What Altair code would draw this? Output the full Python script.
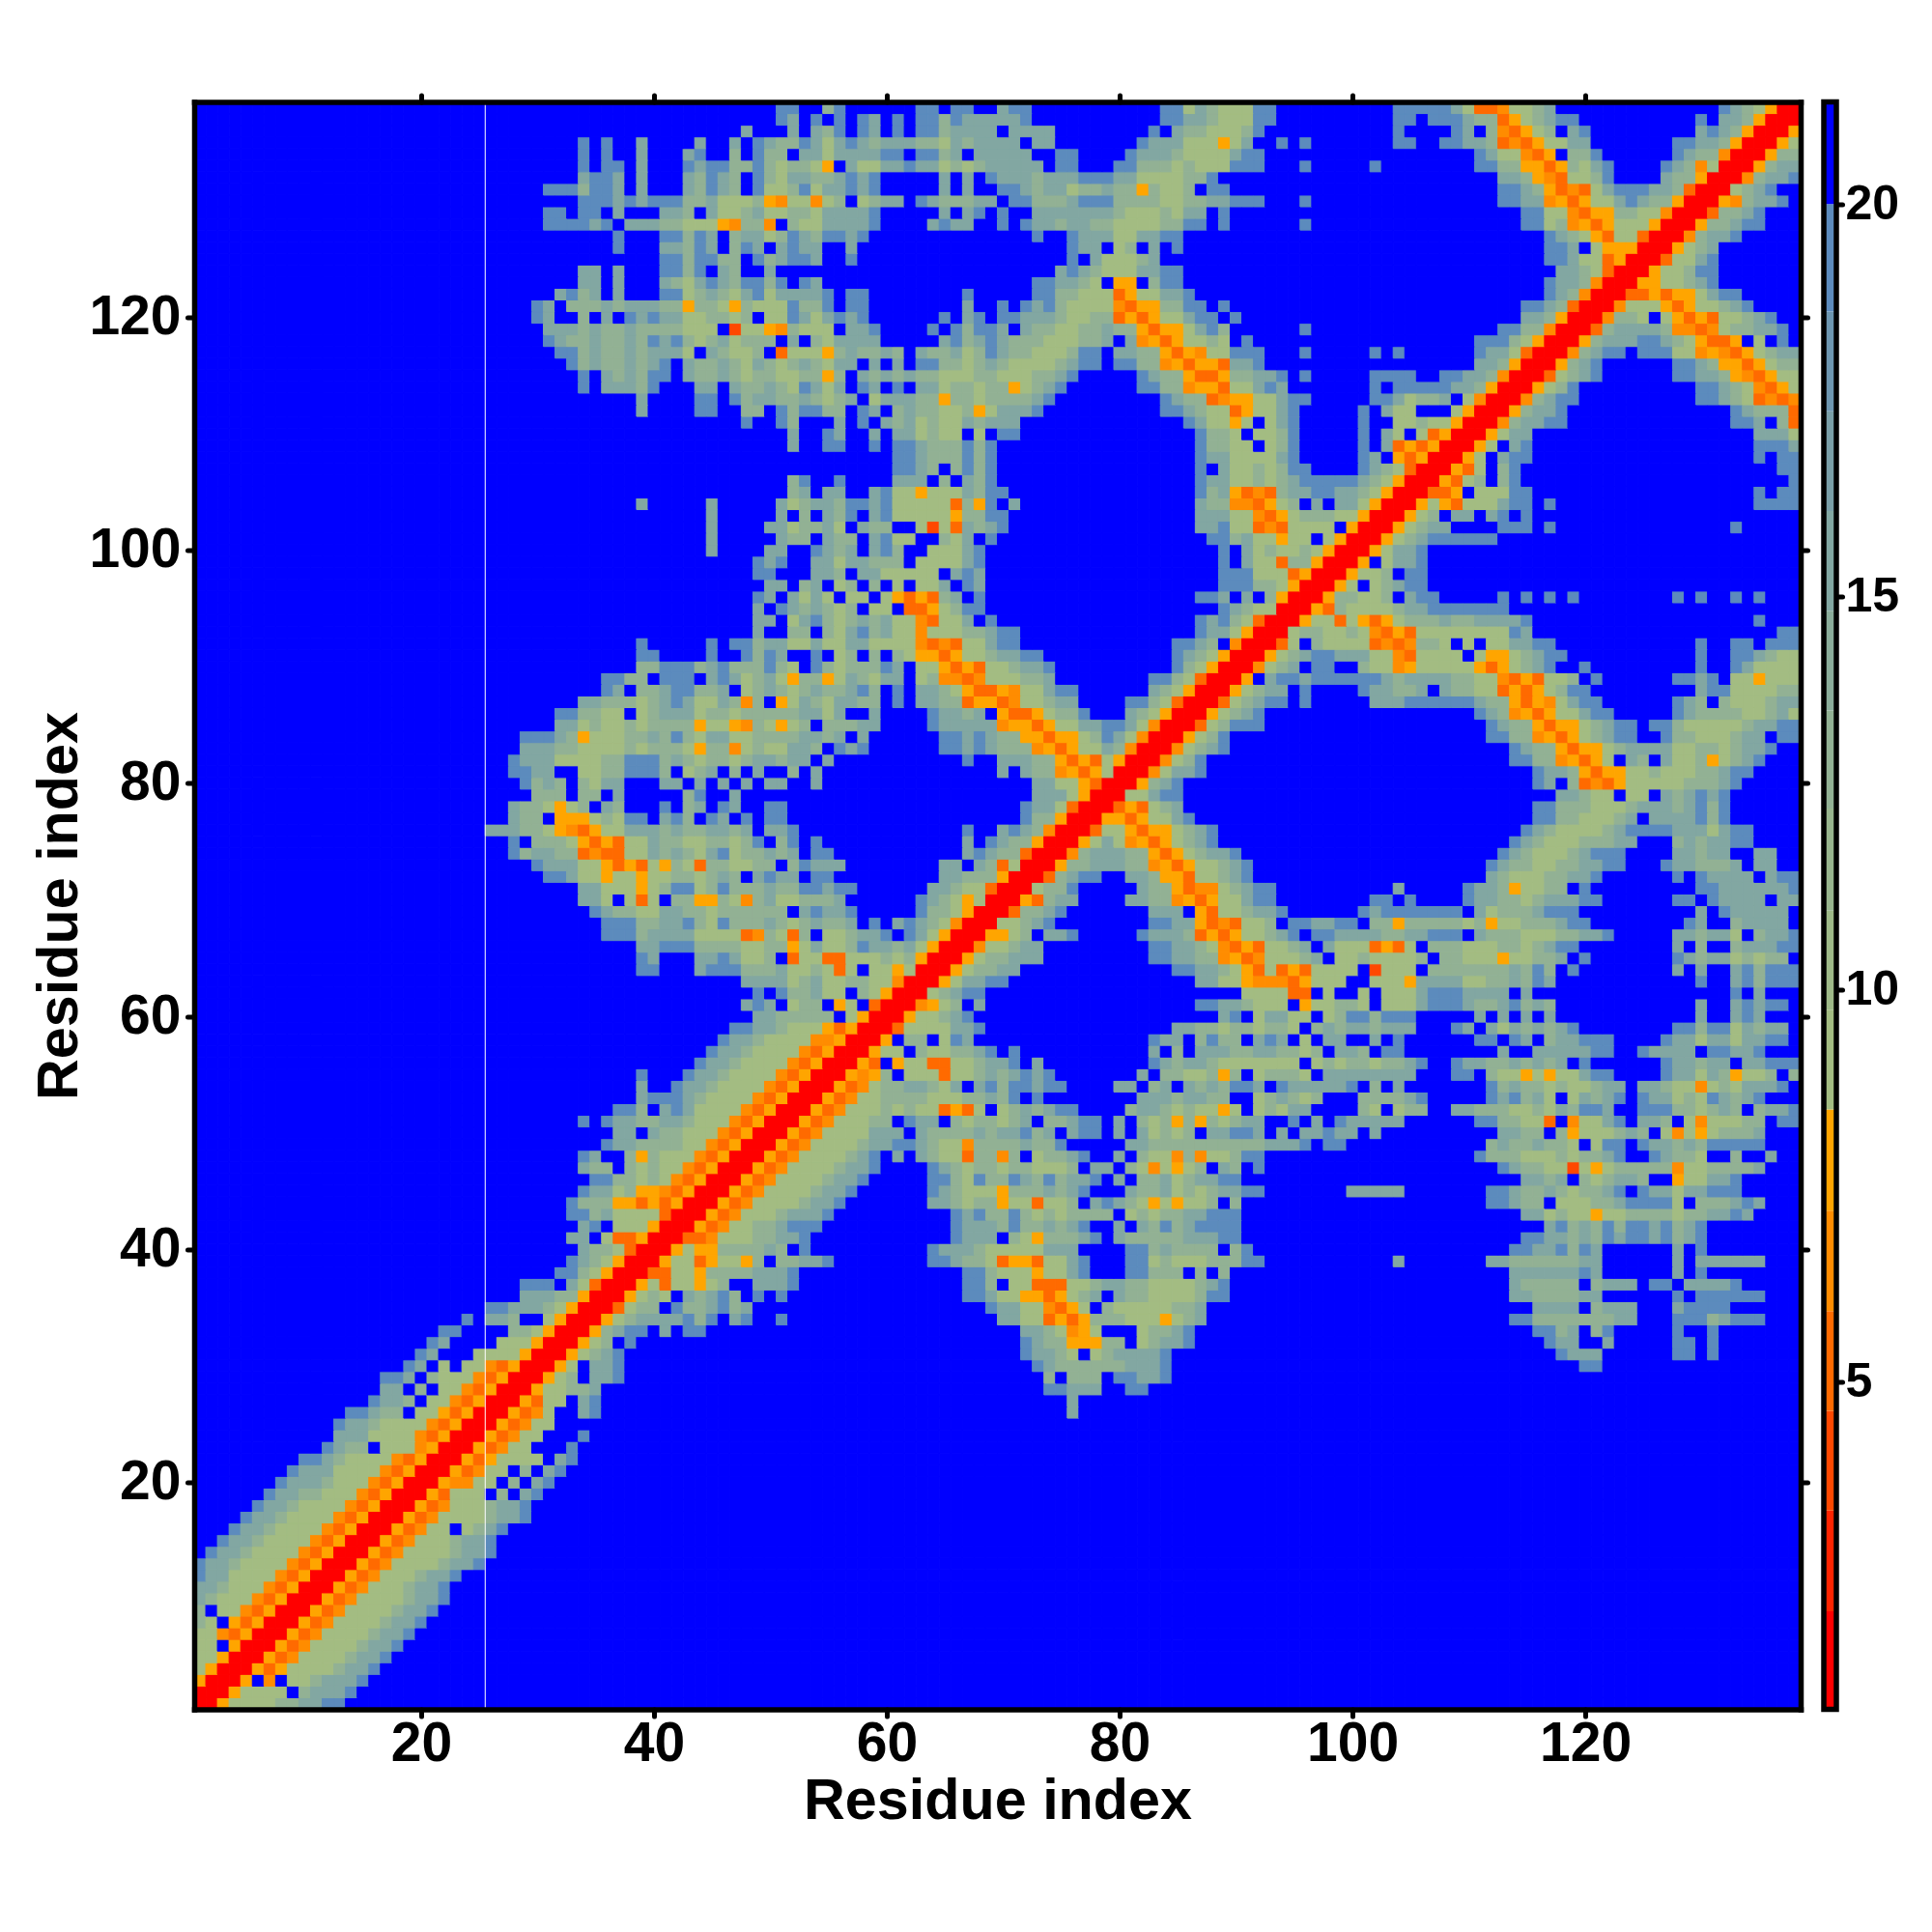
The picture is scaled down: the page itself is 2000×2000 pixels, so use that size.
import altair as alt
import pandas as pd

alt.data_transformers.disable_max_rows()

FONT = "Liberation Sans"
N = 138
AXIS_TICKS = [20, 40, 60, 80, 100, 120]
BAR_TICKS = [5, 10, 15, 20]
SEAM_X = [25.5]

# colour level edges and colours (distance, Angstrom-like units)
LEVEL_EDGES = [0.83, 2.08, 3.36, 4.63, 5.90, 7.18, 8.47, 9.74, 11.0, 12.3,
               13.55, 14.82, 16.09, 17.36, 18.63, 20.0, 21.3]
LEVEL_COLORS = ["#FF0000", "#FF2400", "#FF4800", "#FF6A00", "#FF8C00", "#FFA500",
                "#A3BC82", "#9EB988", "#98B58E", "#92B194", "#8AAC9A", "#82A7A2",
                "#7A9FA8", "#6D96B0", "#5C8BBD", "#0000FF"]
CODE_VALUES = {"R": 1.5, "T": 4.0, "O": 5.3, "M": 6.5, "A": 7.8,
               "g": 9.0, "h": 12.8, "i": 15.4, "j": 19.0, ".": 21.0}

# Upper triangle of the symmetric map, row by row: "first_column:cells"
ROWS = [
"1:RRAgggghhiijj",
"2:RRAgggg.hiiij",
"3:RRA.M.gghiiij",
"4:RRAOAgggghiij",
"5:RRAOMgggghiij",
"6:RRAOMgggghiij",
"7:RRAOMgggghiij",
"8:RRAOMgggghiij",
"9:RRAOMgggghiij",
"10:RRAOMgggghiij",
"11:RRAOMggghiij",
"12:RRAOMggghiij",
"13:RRAOMgggghiij",
"14:RRAOMgggghiij",
"15:RRAOMggghiij",
"16:RRAOMgg.ghij",
"17:RRAOMgggghiij",
"18:RRAOMggghiij",
"19:RRAOggg.h.ij",
"20:RRAMMgg.h.ij",
"21:RRAOMgg.h.ij",
"22:RRAOAgggg.ij",
"23:RRAOMgg...j",
"24:RRAOMgg...j",
"25:RRAOMgg",
"26:RRAOMg..ij 76:i",
"27:RRAOgg.ij 76:i",
"28:RRAgghhi 74:jjiii 81:jj",
"29:RRAgh.iij 74:h.hhh.jjiij",
"30:RRAg.iij 73:jihhhhhhiiij 120:jj",
"31:RRAghij 72:jiihg.ghiiiij 118:jiii 128:jj 131:j",
"32:RRAgh.j 72:jihhAAAhh.ghiij 117:jii 122:i 128:jj 131:j",
"33:RRAhijj.i.jj 72:iihgMAg...ghhij 116:jjhi.hj 128:j..j",
"34:RRAghiiiijhj.ij..j 70:iiggOAOAhhhgggAghi 114:jjhhhhhhhii 128:jjjhijjj",
"35:RROghh.jhhijhi 69:jiiggMOAg.hggggghhi 116:iiii.hiii 128:ijjjj",
"36:RRAghg.ihijh.j.j 67:jjiggAAOAghi.ihhgggghjj 114:iihhhhii 128:j.jjjjjj",
"37:RRAgOggAgh..iiij 67:jjh.ggOOOgghiihhgggghij 114:ihhhhh.hiii 126:jj.iiiij",
"38:RROOggAhhhhiiij 67:jjhgggAggij...jjhhh.h.h 114:iiiiiiji 128:i.j",
"39:RRAggOAggAh.hhiij 64:jjihhgOAAOggij...jjghggghhhjj 104:i 112:iihhhhhhii 128:i.iiiiii",
"40:RRAgAAhhhhih.j 64:jiiihgggggiii....jjhihhhh.hj 114:jjiijhji 128:i.j",
"41:RROOMggghhiij 66:jiii.hgAhhhij.ihhhhhiiijj 115:jjiihihjijjijhij",
"42:RRAOMgghhijjj 66:jiiihjhhihij..i.ihjhijjjj 117:ijhihjhjjijhij",
"43:RRAOMggghiiij 66:jijhhjhghghhhh.ghghhiijjj 115:iighggAgghhhhghhiiji",
"44:RRAOMgggghiij 64:iihghhAggOggh.ijihgAgAggh.h 112:jjihh.ggghhijjjjg.hhhiji",
"45:RRAOMgggghiij 64:jihgggAhhhihij...ihhighghiijj 100:iiiii 112:jjihhihghhij.jiigiijjj",
"46:RRAOMgggghiij 64:jjhgjhhjihjhiij.i.hhighiijj 115:iihi.hghiih..Aggiij",
"47:RRAOMgggghiij 64:jihghhghhgggh.ii.hgMgAgh.ih.j 113:jihhggTgAghhhhhMgghhhhi",
"48:RRAOMgggghij.i.ihggOhhMh.ghhij..i.hggMhMgghjj 111:jhhhggghghhij..jihhg..h..i",
"49:RRAOMgggghiijjihggMhhhhihhj.....iihhhhhhhhhhiiij.jj 112:hihhihhg.gjj.jiihihjjjjj",
"50:RRAOMggggiii.ihhhhihiijhi.ijj.i.ighgh.iijji.i.iijii.i 113:iihh.hAggghih.gMgAghhhi",
"51:RRAOMggghh.jii.hghhghi.hhijj.i.hghAhAhghii..j.i.jiiiii 111:jjhhggO.Mggij.iih.gMggghh.jj",
"52:RRAOMggghghggOAOg.ghihijj....hiihghggAg.ghgii....hg.ghh 109:iihhhgghgihjji..jjjhhghih.hiij",
"53:RRAOMgghhhhggghhihj.j 82:iiihiihh..ghihgh...hhhhij 112:jijhig.gihij.jiighgjihij",
"54:RRAOMghhiihgi.ijhjjijj 80:ii.hi.ihihjji.jiiiiij.h.i 112:jhihhghgghii.iihggMghgiiij",
"55:RRAMAh.gggOgghihijij 82:i.hhgghAh.ghhhg.iiiiiiii 109:jj 112:hggAgAggijj 127:jiigihAggh.h",
"56:RRAO.AggOOgghiij 73:i 83:jihiihggggggg.ghghhghhij 109:jiihhihihi.j 127:jiihii.iijjj",
"57:RRAgg.hgghhij.j 83:i.h.iiihhiihhgh.iih.jj 113:i 116:iiiiijj 125:jiiii.jjiij",
"58:RRA.hh.gji 83:jii.hjhh.iji.g.ii..i.j 111:jj.ji.hiijjj 127:jiigiigiijj",
"59:RROggggiij 85:iihhghhghhg.hihiihiii 109:ji.igihihij 128:jjhjjgihii",
"60:RRAgghij 89:ij.giigg.ghjjhjjj 111:i.i.i.i 130:i 133:iji",
"61:RRMAgh.i 87:jjiihggg.Agghhg.gggijjjihhijhih 130:i 133:ijijj",
"62:RRghijj 91:ggggOO.g..g.gggijjjiiii.i 133:j.i",
"63:RRAgiijj 87:iiggAMMMOAggg..gggAiiiigghhihji 130:j 133:ijhjjj",
"64:RRAghhii 85:jjiihgAOgOAOgggg.Tggg.hhhhhhhihjh.j 128:i 130:i 133:ijhjjj",
"65:RRAghhiii 83:jjiihhMAOMggghi.gghggggh.hhgggAgghhi.j 128:jihiighghh",
"66:RRMgghii 83:jjiihgMOAOgghi.igggOAOg.hhhggghhghijj 128:i.h..hiiijj",
"67:RRAAgh.iij 82:jiiihOAOAgghij.jjiiiihhiijjj.ihhhggghhiij 128:iihiig.hiij",
"68:RRgghij 83:jjiiAOMOggh.jjiijj.hhAhhhhhghAgghhhijj 129:ji..hiiii",
"69:RROhhij 83:iii.AOgghiij 101:jijjjjjjj.ighhhijjj 130:i.jiiiii",
"70:RRAOhii 81:iihhMAOAggijj 102:jj.j 110:jiihhghiiijj 128:jj.jiiii.ii",
"71:RRghhj 82:ihhAOMMghijj 104:i 110:jiihAgghh.j 130:jjiiiiiij",
"72:RROhijj 81:iihAAOgghij 112:ihggghhiij 128:j.jiiii.ijj",
"73:RRAhhiiihhMAOAgghij 112:jihhgghhiijj 127:jiihhhi.ii",
"74:RRMhiiihhAOAghiij 113:jihggghijjj 128:iihii..ii",
"75:RRAgigMAOAghij 114:jihggghhhii 128:hihiijj",
"76:RROggAOAAghij 115:jihgggghijjjjiiigijj",
"77:RRAAOAggij 116:jjhhggghi.iiiijhj",
"78:RROAOghi 116:jjhhhggghiiihijhj",
"79:RRggijj 118:iihgg.gg.ihijij",
"80:RRAhij 116:ji.hOMOAggggghhhij",
"81:RRMgiij 116:jiihAOAAgghggghhijj",
"82:RRMghj 114:jjhhMAOAg.ih.igghAghij",
"83:RRMghij 114:jihhAOAAghiiiigghhghiij",
"84:RRAghj 112:jjhhMAOAghijj 127:jhhggghii.jj",
"85:RROghjjj 112:jihhAOAAghijj 126:jjhggggghiijj",
"86:RRAghij 111:jihMAOAggijj 128:jihhhhgghig",
"87:RROghijj 96:j 102:iiijjjjjjihhAOAMgijj 128:jih.hggghii",
"88:RRAghii.j 101:jiihhi.ihhggOAOAghjj 130:ijjgggghh",
"89:RRA.ijjijjjjjjihiiiihhggMOAOggh.j 128:jjij.ggAggg",
"90:RRMghi.jj..hggMAgggggAOAghij 120:j 130:j 133:jigggg",
"91:RRAghijjiiiggMOgggg.gAAghijj 130:j 133:jjihgg",
"92:RROg.hggggOMOMhhg.g.ggiijj 130:j 133:jj.jjj",
"93:RRghhgghgMOAOggggggggji 137:jj",
"94:RRAggOgAOAghhhihhiiiij 135:j",
"95:RRAOhgggghiijjjjjjj",
"96:RRAhhggh.ijj 113:j.j.j.j 128:j.j..j.j",
"97:RRAg.ghijj",
"98:RRAggh.jj",
"99:RRA.giij",
"100:RRAgiij",
"101:RRAghijjjjjj",
"102:RRAghii 113:jjj.j 133:j",
"103:RRAgh.ii.ij.j",
"104:RRAgAOgggijj.j 135:jjjj",
"105:RROOA.gggjj 135:j.jj",
"106:RRAOgh.hj 138:j",
"107:RRAOg.hj 137:jj",
"108:RRAg.ijj 135:j.jj",
"109:RRAg.ij 135:jjji",
"110:RRAgii 135:iiig",
"111:RRMhiijj 133:jji.hO",
"112:RRAhiij 133:jihhhO",
"113:RRMhijj 130:jjihgOMOM",
"114:RRAghj 130:jjihgMOAg",
"115:RROghij 128:jjiihAMOAgg",
"116:RRAhij 128:jjihAAOAghh",
"117:RRMhijj.jjjggMAMOAghii",
"118:RRAhiiijjihgAOOA.g.j.",
"119:RROhiiiihMMOMghhiij",
"120:RRMhhg.gAOAOgghij",
"121:RRMgggAOAgghij",
"122:RROOAOAAgijj",
"123:RRAAgghij",
"124:RRAgghjj",
"125:RROggij",
"126:RRAghi",
"127:RRMhiij",
"128:RRAhhijj",
"129:RROhhij",
"130:RRAMhiij",
"131:RRghij",
"132:RRMhiij",
"133:RRAhii",
"134:RRAhh",
"135:RRAg",
"136:RRA",
"137:RR",
"138:R",
]

TITLE_X = "Residue index"
TITLE_Y = "Residue index"

# ---------- table ----------
grid = {}
for r, line in enumerate(ROWS, start=1):
    for seg in line.split():
        start, cells = seg.split(":")
        for k, ch in enumerate(cells):
            c = int(start) + k
            if c <= N:
                grid[(r, c)] = CODE_VALUES[ch]
                grid[(c, r)] = CODE_VALUES[ch]

records = []
for r in range(1, N + 1):
    for c in range(1, N + 1):
        records.append({"x": c - .5, "x2": c + .5, "y": r - .5, "y2": r + .5,
                        "v": grid.get((r, c), CODE_VALUES["."])})
cells = pd.DataFrame(records)

thresholds = LEVEL_EDGES[1:-1]
color_scale = alt.Scale(type="threshold", domain=thresholds, range=LEVEL_COLORS)
pos = alt.Scale(domain=[0.5, 138.5], nice=False, zero=False)

W, H = 1663, 1664


def ax(orient, labels, title=None, label_pad=3, title_pad=4):
    kw = dict(orient=orient, values=AXIS_TICKS, labels=labels, grid=False, zindex=1,
              domain=True, domainColor="black", domainWidth=5.5, domainCap="square",
              ticks=True, tickColor="black", tickWidth=5, tickSize=7, tickCap="round",
              format="d")
    if labels:
        kw.update(labelFont=FONT, labelFontWeight="bold", labelFontSize=57,
                  labelColor="black", labelPadding=label_pad)
    if title:
        kw.update(title=title, titleFont=FONT, titleFontWeight="bold", titleFontSize=59.3,
                  titleColor="black", titlePadding=title_pad)
    else:
        kw.update(title=None)
    return alt.Axis(**kw)


x_main = ax("bottom", True, TITLE_X, label_pad=1, title_pad=2)
y_main = ax("left", True, TITLE_Y, label_pad=7, title_pad=0)

heat = alt.Chart(cells).mark_rect(strokeWidth=1).encode(
    x=alt.X("x:Q", scale=pos, axis=x_main),
    x2="x2:Q",
    y=alt.Y("y:Q", scale=pos, axis=y_main),
    y2="y2:Q",
    fill=alt.Fill("v:Q", scale=color_scale, legend=None),
    stroke=alt.Stroke("v:Q", scale=color_scale, legend=None),
)

seam = alt.Chart(pd.DataFrame({"x": SEAM_X})).mark_rule(color="white", strokeWidth=1).encode(
    x=alt.X("x:Q", scale=pos, axis=None),
)

top_right = alt.Chart(pd.DataFrame({"x": AXIS_TICKS, "y": AXIS_TICKS})).mark_point(opacity=0).encode(
    x=alt.X("x:Q", scale=pos, axis=ax("top", False)),
    y=alt.Y("y:Q", scale=pos, axis=ax("right", False)),
)

main = alt.layer(heat, seam, top_right).resolve_axis(x="independent", y="independent").properties(
    width=W, height=H
)

bar_df = pd.DataFrame({"lo": LEVEL_EDGES[:-1], "hi": LEVEL_EDGES[1:],
                       "v": [(a + b) / 2 for a, b in zip(LEVEL_EDGES[:-1], LEVEL_EDGES[1:])]})
bar_scale = alt.Scale(domain=[LEVEL_EDGES[0], LEVEL_EDGES[-1]], nice=False, zero=False)
bar_axis = alt.Axis(
    orient="right", values=BAR_TICKS, title=None, grid=False, domain=False,
    ticks=True, tickColor="black", tickWidth=5, tickSize=6, tickCap="round",
    labelFont=FONT, labelFontWeight="bold", labelFontSize=50, labelColor="black",
    labelPadding=3, format="d")

bar_rect = alt.Chart(bar_df).mark_rect().encode(
    y=alt.Y("lo:Q", scale=bar_scale, axis=bar_axis),
    y2="hi:Q",
    fill=alt.Fill("v:Q", scale=color_scale, legend=None),
)
bar_frame = alt.Chart(pd.DataFrame({"lo": [LEVEL_EDGES[0]], "hi": [LEVEL_EDGES[-1]]})).mark_rect(
    fillOpacity=0, stroke="black", strokeWidth=5.5
).encode(
    y=alt.Y("lo:Q", scale=bar_scale, axis=bar_axis),
    y2="hi:Q",
)
bar = alt.layer(bar_rect, bar_frame).properties(width=13, height=H)

chart = alt.hconcat(main, bar, spacing=24, bounds="flush").configure_view(stroke=None).properties(
    padding={"left": 24, "top": 87.5, "right": 5, "bottom": 5}
)

chart.save("out.html", embed_options={"renderer": "svg", "actions": False})
